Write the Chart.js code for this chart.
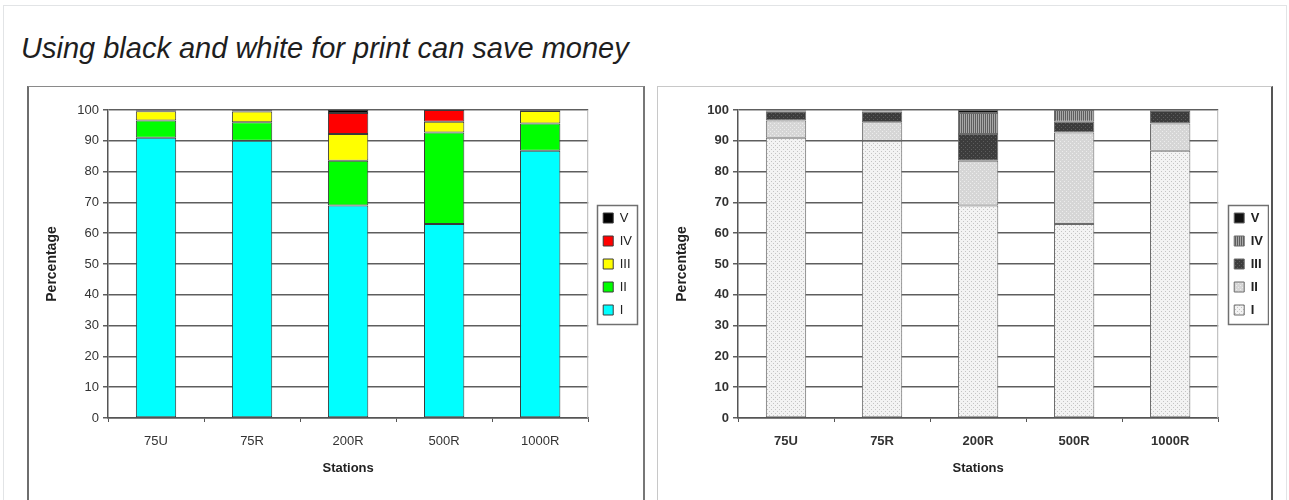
<!DOCTYPE html>
<html>
<head>
<meta charset="utf-8">
<script src="https://cdn.jsdelivr.net/npm/chart.js@4.4.1/dist/chart.umd.min.js"></script>
<style>
  html, body { margin: 0; padding: 0; background: #fff; }
  body { width: 1289px; height: 500px; position: relative; overflow: hidden; font-family: "Liberation Sans", Arial, sans-serif; }
  #frame { position: absolute; left: 3px; top: 5px; width: 1282px; height: 520px; border: 1px solid #e2e4e6; }
  #title { position: absolute; left: 21px; top: 32px; font-size: 29px; font-style: italic; color: #1e1e1e; white-space: nowrap; }
  #panelL { position: absolute; left: 27px; top: 86px; width: 614px; height: 430px; border: 1px solid #8a8a8a; border-left: 2px solid #6e6e6e; border-right: 2px solid #777; }
  #panelR { position: absolute; left: 657px; top: 86px; width: 613px; height: 430px; border: 1px solid #c8c8c8; border-right: 2px solid #555; }
  .cv { position: absolute; }
  #cL { left: 29px; top: 89px; }
  #cR { left: 659px; top: 89px; }
</style>
</head>
<body>
<div id="frame"></div>
<div id="title">Using black and white for print can save money</div>
<div id="panelL"></div>
<div id="panelR"></div>
<canvas id="cL" class="cv" width="610" height="400" style="width:610px;height:400px"></canvas>
<canvas id="cR" class="cv" width="610" height="400" style="width:610px;height:400px"></canvas>
<script>
// ---- data ----
const categories = ['75U', '75R', '200R', '500R', '1000R'];
const seriesNames = ['I', 'II', 'III', 'IV', 'V'];
const classI   = [91.0, 90.0, 69.0, 63.0, 86.8];
const classII  = [5.6, 6.0, 14.5, 29.7, 8.8];
const classIII = [3.0, 3.5, 8.7, 3.5, 4.1];
const classIV  = [0.2, 0.4, 6.8, 3.8, 0.2];
const classV   = [0.2, 0.1, 1.0, 0.0, 0.1];
const yTicks   = [0, 10, 20, 30, 40, 50, 60, 70, 80, 90, 100];
const xTitle = 'Stations';
const yTitle = 'Percentage';

const seriesValues = [classI, classII, classIII, classIV, classV];
const colorFills = ['#00ffff', '#00ff00', '#ffff00', '#ff0000', '#000000'];

function makePattern(kind) {
  const c = document.createElement('canvas');
  c.width = 4; c.height = 4;
  const g = c.getContext('2d');
  if (kind === 'dots') {
    g.fillStyle = '#f3f3f3'; g.fillRect(0, 0, 4, 4);
    g.fillStyle = '#c4c4c4';
    g.fillRect(0, 0, 1, 1); g.fillRect(2, 2, 1, 1);
  } else if (kind === 'light') {
    g.fillStyle = '#d6d6d6'; g.fillRect(0, 0, 4, 4);
    g.fillStyle = '#ececec';
    g.fillRect(1, 0, 1, 1); g.fillRect(3, 2, 1, 1);
  } else if (kind === 'dark') {
    g.fillStyle = '#3c3c3c'; g.fillRect(0, 0, 4, 4);
    g.fillStyle = '#5c5c5c';
    g.fillRect(0, 0, 1, 1); g.fillRect(2, 2, 1, 1);
  } else if (kind === 'stripe') {
    g.fillStyle = '#a8a8a8'; g.fillRect(0, 0, 4, 4);
    g.fillStyle = '#5e5e5e';
    g.fillRect(0, 0, 1, 4); g.fillRect(2, 0, 1, 4);
  } else {
    g.fillStyle = '#111'; g.fillRect(0, 0, 4, 4);
  }
  return g.createPattern(c, 'repeat');
}
const grayFills = [makePattern('dots'), makePattern('light'), makePattern('dark'), makePattern('stripe'), makePattern('black')];

const frameBox = {
  id: 'frameBox',
  afterLayout(chart) {
    const lg = chart.legend, a = chart.chartArea;
    if (!lg) return;
    const shift = chart.options.plugins.frameBox.legendShift;
    lg.left += shift; lg.right += shift;
    lg.top = a.top; lg.bottom = a.bottom;
  },
  beforeDatasetsDraw(chart) {
    const a = chart.chartArea, ctx = chart.ctx;
    ctx.save();
    ctx.strokeStyle = '#b4b4b4';
    ctx.lineWidth = 1;
    ctx.beginPath();
    ctx.moveTo(a.left, a.top + 0.5);
    ctx.lineTo(a.right - 0.5, a.top + 0.5);
    ctx.lineTo(a.right - 0.5, a.bottom);
    ctx.stroke();
    ctx.restore();
  },
  afterDraw(chart) {
    const lg = chart.legend;
    if (!lg || !lg.legendHitBoxes || !lg.legendHitBoxes.length) return;
    const hb = lg.legendHitBoxes;
    let x0 = Infinity, y0 = Infinity, x1 = -Infinity, y1 = -Infinity;
    hb.forEach(h => { x0 = Math.min(x0, h.left); y0 = Math.min(y0, h.top); x1 = Math.max(x1, h.left + h.width); y1 = Math.max(y1, h.top + h.height); });
    const ctx = chart.ctx;
    ctx.save();
    ctx.strokeStyle = '#707070';
    ctx.lineWidth = 1.5;
    ctx.strokeRect(Math.round(x0 - 6) + 0.5, Math.round(y0 - 7) + 0.5, Math.round(x1 - x0 + 11), Math.round(y1 - y0 + 14));
    ctx.restore();
  }
};

function buildChart(id, fills, bold, borderCol, legendShift) {
  const weight = bold ? 'bold' : 'normal';
  const datasets = seriesNames.map((name, i) => ({
    label: name,
    data: seriesValues[i],
    backgroundColor: fills[i],
    borderColor: borderCol,
    borderWidth: 1,
    borderSkipped: false,
    categoryPercentage: 1.0,
    barPercentage: 0.42
  }));
  return new Chart(document.getElementById(id), {
    type: 'bar',
    data: { labels: categories, datasets },
    plugins: [frameBox],
    options: {
      responsive: false,
      animation: false,
      events: [],
      layout: { padding: { top: 21, left: 0, right: 2, bottom: 0 } },
      plugins: {
        frameBox: { legendShift: legendShift },
        tooltip: { enabled: false },
        title: { display: false },
        legend: {
          display: true,
          position: 'right',
          reverse: true,
          labels: {
            boxWidth: 10,
            boxHeight: 10,
            padding: 10,
            color: '#222',
            font: { family: '"Liberation Sans", Arial, sans-serif', size: 13, weight: weight }
          }
        }
      },
      scales: {
        x: {
          stacked: true,
          grid: { display: true, drawOnChartArea: false, drawTicks: true, tickLength: 4, color: '#555', offset: true },
          border: { display: true, color: '#555', width: 1.5 },
          ticks: { color: '#333', padding: 12, font: { family: '"Liberation Sans", Arial, sans-serif', size: 13, weight: weight } },
          title: { display: true, text: xTitle, color: '#222', padding: { top: 4, bottom: 13 }, font: { family: '"Liberation Sans", Arial, sans-serif', size: 13, weight: 'bold' } },
          afterFit(scale) { scale.height = 71; }
        },
        y: {
          stacked: true,
          min: 0,
          max: 100,
          afterBuildTicks(scale) { scale.ticks = yTicks.map(v => ({ value: v })); },
          grid: { color: '#5e5e5e', lineWidth: 1.5, drawTicks: true, tickLength: 5 },
          border: { display: true, color: '#555', width: 1.5 },
          ticks: { color: '#333', padding: 4, font: { family: '"Liberation Sans", Arial, sans-serif', size: 13, weight: weight } },
          title: { display: true, text: yTitle, color: '#222', padding: { top: 15, bottom: 4 }, font: { family: '"Liberation Sans", Arial, sans-serif', size: 14, weight: 'bold' } },
          afterFit(scale) { scale.width = 79; }
        }
      }
    }
  });
}

buildChart('cL', colorFills, false, '#3a3a3a', 5);
buildChart('cR', grayFills, true, '#6a6a6a', 6);
</script>
</body>
</html>
